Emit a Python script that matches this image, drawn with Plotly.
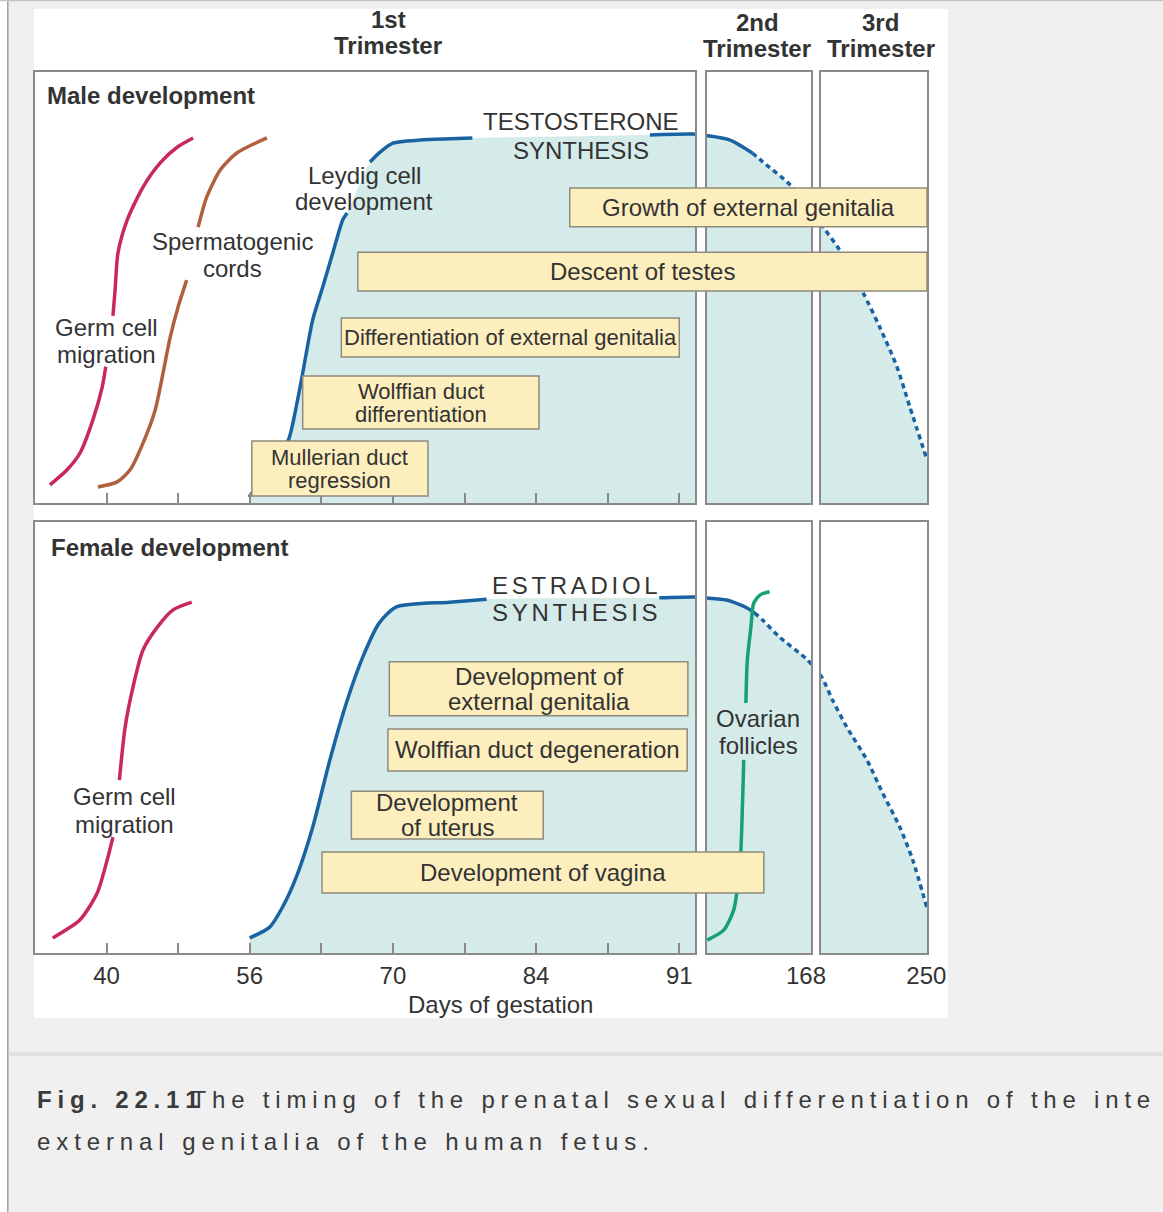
import plotly.graph_objects as go

W, H = 1163, 1212

# x is counted in tick steps of the 1st-trimester axis (0 = day 40 ... 8 = day 91)
# and carries on through the 2nd and 3rd trimester panels; y runs 0-100 inside a panel
tick_vals = [0, 1, 2, 3, 4, 5, 6, 7, 8]
tick_text = ["40", "", "56", "", "70", "", "84", "", "91"]
tri2_tick, tri2_text = [9.77], ["168"]
tri3_tick, tri3_text = [11.45], ["250"]

# ---- male development ----
m_germ_x = [-0.79, -0.55, -0.37, -0.19, -0.06, -0.01, None, 0.09, 0.12, 0.16, 0.29, 0.51, 0.75, 0.99, 1.21]
m_germ_y = [4.2, 7.7, 11.6, 19.3, 26.9, 31.6, None, 43.4, 49.4, 58.0, 65.7, 73.3, 78.9, 82.6, 84.7]

m_cords_x = [-0.12, 0.15, 0.33, 0.51, 0.68, 0.79, 0.89, 1.00, 1.12, None, 1.28, 1.40, 1.59, 1.82, 2.24]
m_cords_y = [3.7, 4.9, 7.7, 13.9, 21.6, 30.2, 38.5, 45.5, 51.7, None, 64.0, 71.0, 77.3, 81.2, 84.7]

testo_x = [1.99, 2.17, 2.35, 2.54, 2.66, 2.73, 2.88, 3.02, 3.16, 3.30, 3.36, None,
           3.68, 3.82, 4.00, 4.38, 4.80, 5.11, None, 7.59, 8.19, 8.40, 8.71, 9.02]
testo_y = [1.4, 5.3, 10.0, 14.6, 23.2, 29.2, 42.5, 50.1, 58.0, 65.7, 67.3, None,
           79.1, 81.4, 83.5, 84.2, 84.5, 84.7, None, 85.4, 85.6, 85.2, 84.2, 81.2]
testo_dot_x = [9.02, 9.17, 9.55, 9.84, 10.01, 10.24, 10.57, 10.80, 11.04, 11.22, 11.46]
testo_dot_y = [81.2, 79.1, 73.8, 68.0, 64.0, 58.7, 48.7, 40.8, 31.6, 22.3, 10.0]

male_tasks = ["Growth of external genitalia", "Descent of testes",
              "Differentiation of external genitalia", "Wolffian duct<br>differentiation",
              "Mullerian duct<br>regression"]
male_start = [6.47, 3.51, 3.28, 2.74, 2.03]
male_end = [11.46, 11.46, 8.00, 6.04, 4.49]
male_level = [68.6, 53.7, 38.4, 23.3, 8.0]
male_thick = [9.0, 9.0, 9.0, 12.3, 12.8]

# ---- female development ----
f_germ_x = [-0.75, -0.37, -0.13, 0.01, 0.09, None, 0.18, 0.26, 0.37, 0.51, 0.71, 0.93, 1.19]
f_germ_y = [3.5, 7.7, 13.9, 21.6, 26.9, None, 40.1, 52.4, 61.7, 70.3, 75.6, 79.6, 81.4]

estra_x = [2.00, 2.28, 2.46, 2.65, 2.88, 3.12, 3.35, 3.58, 3.81, 4.05, 4.79, 5.31, None,
           7.72, 8.21, 8.35, 8.66, 8.94, 9.05]
estra_y = [3.5, 6.0, 10.7, 17.6, 29.2, 44.8, 58.0, 68.7, 76.6, 80.3, 81.4, 82.1, None,
           82.4, 82.6, 82.4, 81.9, 80.1, 78.9]
estra_dot_x = [9.05, 9.16, 9.40, 9.79, 9.99, 10.14, 10.34, 10.62, 10.84, 11.08, 11.26, 11.46]
estra_dot_y = [78.9, 77.3, 73.3, 68.0, 64.0, 58.7, 52.4, 44.8, 37.1, 29.2, 21.6, 10.4]

follicle_x = [8.39, 8.62, 8.76, 8.83, 8.86, 8.90, None, 8.93, 8.95, 9.00, 9.04, 9.13, 9.26]
follicle_y = [3.0, 5.3, 10.0, 17.6, 23.9, 44.8, None, 58.0, 68.0, 75.6, 81.2, 83.1, 83.8]

female_tasks = ["Development of<br>external genitalia", "Wolffian duct degeneration",
                "Development<br>of uterus", "Development of vagina"]
female_start = [3.95, 3.93, 3.42, 3.01]
female_end = [8.12, 8.11, 6.10, 9.18]
female_level = [61.3, 47.1, 32.0, 18.7]
female_thick = [12.5, 9.7, 11.1, 9.5]

# colours
FONT = "Liberation Sans, Arial, sans-serif"
TXT = "#333333"
FILL = "#d4ebea"
BOX = "#fdeebe"
BOX_EDGE = "#8e8b7c"
FRAME = "#8a8a8a"
RED, BROWN, BLUE, GREEN = "#c8285a", "#b0603e", "#1a63a3", "#17a078"

# page geometry (pixels)
X0, STEP = 106.5, 71.6
def u(px):
    return (px - X0) / STEP

cols = [(35, 695), (707, 811), (821, 927)]
rows = [(72, 503), (522, 953)]

fig = go.Figure()
layout = {}

def ax_name(kind, i):
    return kind if i == 1 else f"{kind}{i}"

for r, (top, bot) in enumerate(rows):
    for c, (left, right) in enumerate(cols):
        i = r * 3 + c + 1
        xa = dict(domain=[left / W, right / W], range=[u(left), u(right)],
                  anchor=ax_name("y", i), showline=True, mirror=True, linecolor=FRAME,
                  linewidth=1.5, showgrid=False, zeroline=False, fixedrange=True,
                  ticks="", showticklabels=False,
                  tickfont=dict(family=FONT, size=24, color=TXT))
        if c == 0:
            xa.update(tickmode="array", tickvals=tick_vals, ticktext=tick_text,
                      ticks="inside", ticklen=10, tickwidth=1.5, tickcolor="#8a8a8a")
        if r == 1:
            xa["showticklabels"] = True
            if c == 1:
                xa.update(tickmode="array", tickvals=tri2_tick, ticktext=tri2_text)
            if c == 2:
                xa.update(tickmode="array", tickvals=tri3_tick, ticktext=tri3_text)
        ya = dict(domain=[1 - bot / H, 1 - top / H], range=[0, 100], anchor=ax_name("x", i),
                  showline=True, mirror=True, linecolor=FRAME, linewidth=1.5,
                  showgrid=False, zeroline=False, showticklabels=False, ticks="",
                  fixedrange=True)
        layout[ax_name("xaxis", i)] = xa
        layout[ax_name("yaxis", i)] = ya

# overlay axes that span a whole row, for the bars that cross the panel gaps
for k, (top, bot) in zip((7, 8), rows):
    layout[f"xaxis{k}"] = dict(domain=[30 / W, 935 / W], range=[u(30), u(935)],
                               anchor=f"y{k}", visible=False, fixedrange=True)
    layout[f"yaxis{k}"] = dict(domain=[1 - bot / H, 1 - top / H], range=[0, 100],
                               anchor=f"x{k}", visible=False, fixedrange=True)


def put(trace, i):
    trace.update(xaxis=ax_name("x", i), yaxis=ax_name("y", i), hoverinfo="skip",
                 showlegend=False)
    fig.add_trace(trace)


def curve(color, dash=None):
    return dict(color=color, width=3.5, shape="spline", smoothing=0.7, dash=dash)


def hormone(row, sx, sy, dx, dy):
    fx = [v for v in sx + dx if v is not None]
    fy = [v for v in sy + dy if v is not None]
    for c in range(3):
        i = row * 3 + c + 1
        put(go.Scatter(x=fx, y=fy, mode="lines", fill="tozeroy", fillcolor=FILL,
                       line=dict(width=0, shape="spline", smoothing=0.7)), i)
        put(go.Scatter(x=sx, y=sy, mode="lines", line=curve(BLUE)), i)
        put(go.Scatter(x=dx, y=dy, mode="lines", line=curve(BLUE, "5px,4px")), i)


hormone(0, testo_x, testo_y, testo_dot_x, testo_dot_y)
put(go.Scatter(x=m_germ_x, y=m_germ_y, mode="lines", line=curve(RED)), 1)
put(go.Scatter(x=m_cords_x, y=m_cords_y, mode="lines", line=curve(BROWN)), 1)

hormone(1, estra_x, estra_y, estra_dot_x, estra_dot_y)
put(go.Scatter(x=f_germ_x, y=f_germ_y, mode="lines", line=curve(RED)), 4)
put(go.Scatter(x=follicle_x, y=follicle_y, mode="lines", line=curve(GREEN)), 5)

annotations = []


def bars(k, tasks, start, end, level, thick, sizes, gaps):
    put(go.Bar(orientation="h", base=start, x=[e - s for s, e in zip(start, end)],
               y=level, width=thick,
               marker=dict(color=BOX, line=dict(color=BOX_EDGE, width=1.5))), k)
    for t, s, e, lv, fs, g in zip(tasks, start, end, level, sizes, gaps):
        parts = t.split("<br>")
        n = len(parts)
        for j, p in enumerate(parts):
            annotations.append(dict(
                x=(s + e) / 2, y=lv, xref=f"x{k}", yref=f"y{k}", text=p, showarrow=False,
                xanchor="center", yanchor="middle", yshift=((n - 1) / 2 - j) * g,
                font=dict(family=FONT, size=fs, color=TXT)))


bars(7, male_tasks, male_start, male_end, male_level, male_thick,
     [24, 24, 22, 22, 22], [0, 0, 0, 23, 23])
bars(8, female_tasks, female_start, female_end, female_level, female_thick,
     [24, 24, 24, 24], [25, 0, 25, 0])


def label(lines, cx, cy, gap=27, size=24, bold=False, spacing=None, anchor="center"):
    n = len(lines)
    for j, t in enumerate(lines):
        y = cy + (j - (n - 1) / 2) * gap
        txt = f"<b>{t}</b>" if bold else t
        if spacing:
            txt = f'<span style="letter-spacing:{spacing}px">{txt}</span>'
        annotations.append(dict(
            x=cx / W, y=1 - y / H, xref="paper", yref="paper", text=txt, showarrow=False,
            xanchor=anchor, yanchor="middle", font=dict(family=FONT, size=size, color=TXT)))


label(["1st", "Trimester"], 388, 32.5, bold=True)
label(["2nd", "Trimester"], 757, 35.5, bold=True)
label(["3rd", "Trimester"], 881, 35.5, bold=True)
label(["Male development"], 45, 95, bold=True, anchor="left")
label(["Female development"], 49, 547, bold=True, anchor="left")
label(["Germ cell", "migration"], 106, 341)
label(["Spermatogenic", "cords"], 232, 254.5)
label(["Leydig cell", "development"], 364, 188, gap=26)
label(["TESTOSTERONE", "SYNTHESIS"], 581, 136, gap=28)
label(["Germ cell", "migration"], 124, 810, gap=28)
label(["ESTRADIOL", "SYNTHESIS"], 576, 598.5, spacing=3.7)
label(["Ovarian", "follicles"], 758, 731.5)
label(["Days of gestation"], 500, 1004)

# caption under the figure (the source page runs the first line out to its right edge)
cap1 = ('<span style="letter-spacing:5.8px"><b>Fig. 22.1</b></span>'
        '<span style="letter-spacing:-7px"><b>1</b></span>'
        '<span style="letter-spacing:5.8px">The timing of the prenatal sexual '
        'differentiation of the inte</span>')
cap2 = '<span style="letter-spacing:5.9px">external genitalia of the human fetus.</span>'
for t, y in ((cap1, 1099), (cap2, 1141)):
    annotations.append(dict(
        x=35 / W, y=1 - y / H, xref="paper", yref="paper", showarrow=False,
        text=t, xanchor="left", yanchor="middle",
        font=dict(family=FONT, size=24, color="#3a3a3a")))

shapes = [
    dict(type="rect", xref="paper", yref="paper", x0=34 / W, x1=948 / W,
         y0=1 - 1018 / H, y1=1 - 9 / H, fillcolor="white", line_width=0, layer="below"),
    dict(type="rect", xref="paper", yref="paper", x0=0, x1=7 / W, y0=0, y1=1,
         fillcolor="white", line_width=0, layer="below"),
    dict(type="line", xref="paper", yref="paper", x0=7.8 / W, x1=7.8 / W, y0=0, y1=1,
         line=dict(color="#a0a0a0", width=1.5)),
    dict(type="line", xref="paper", yref="paper", x0=0, x1=1, y0=1 - 0.6 / H, y1=1 - 0.6 / H,
         line=dict(color="#c4c4c4", width=1.5)),
    dict(type="rect", xref="paper", yref="paper", x0=9 / W, x1=1,
         y0=1 - 1056 / H, y1=1 - 1052 / H, fillcolor="#e2e2e2", line_width=0, layer="below"),
]

fig.update_layout(
    width=W, height=H, autosize=False,
    margin=dict(l=0, r=0, t=0, b=0, autoexpand=False),
    paper_bgcolor="#f0f0f0", plot_bgcolor="rgba(0,0,0,0)",
    barmode="overlay", showlegend=False,
    annotations=annotations, shapes=shapes, **layout)

fig.write_html("out.html", config={"displayModeBar": False},
               post_script="document.body.style.margin='0';"
               "document.documentElement.style.overflow='hidden';")
